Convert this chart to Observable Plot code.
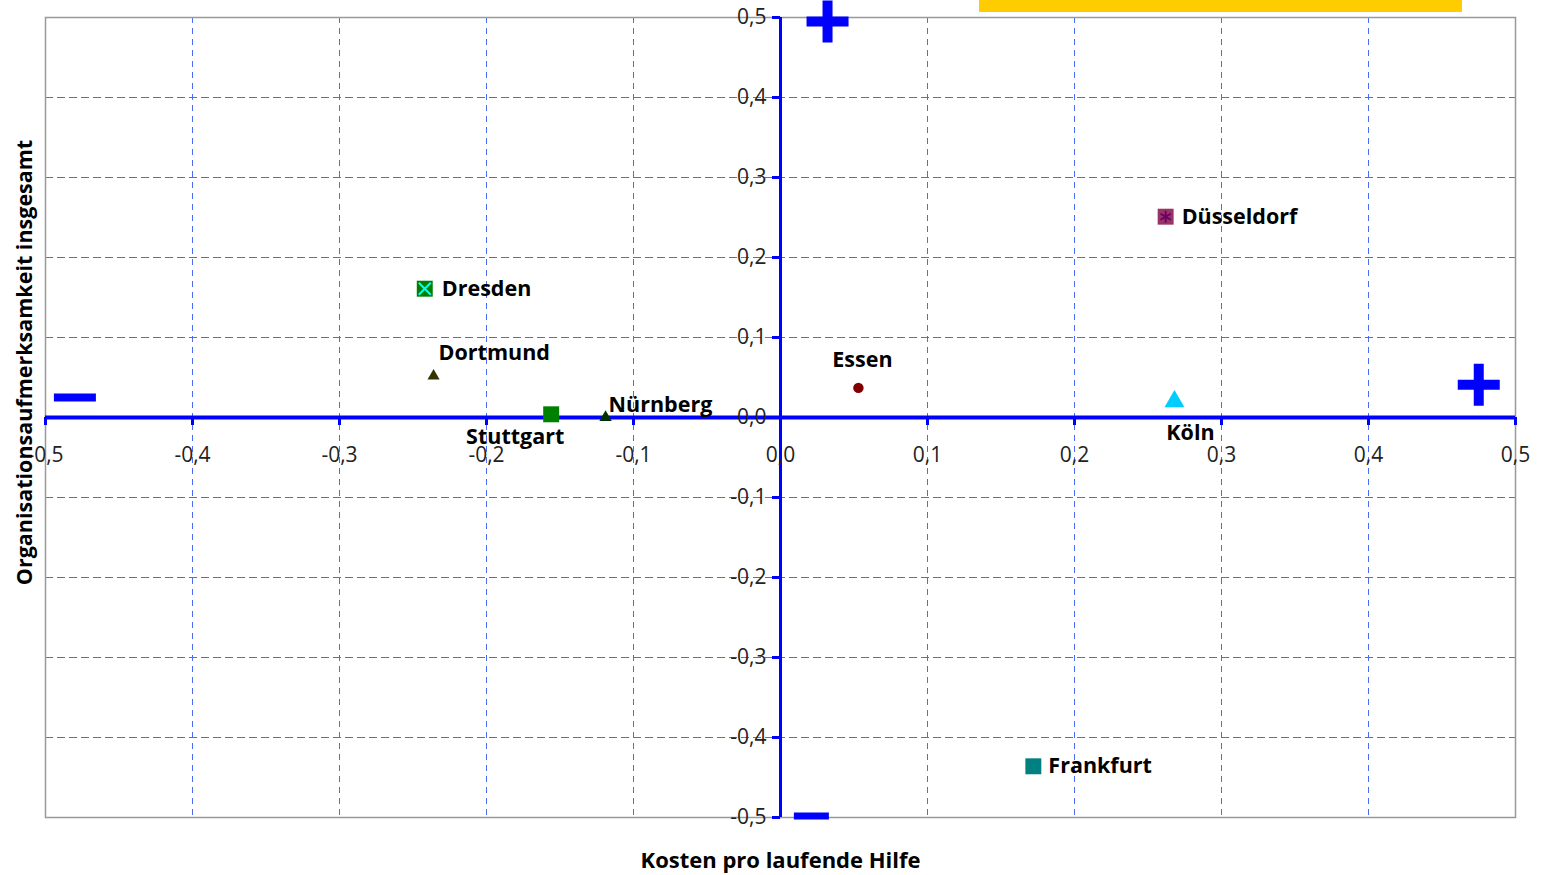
<!DOCTYPE html>
<html>
<head>
<meta charset="utf-8">
<script src="https://cdn.jsdelivr.net/npm/d3@7"></script>
<script src="https://cdn.jsdelivr.net/npm/@observablehq/plot@0.6"></script>
<style>
  body { margin: 0; background: #fff; }
  #wrap { position: relative; width: 1543px; height: 875px; font-family: "Open Sans", sans-serif; }
  #banner { position: absolute; left: 979px; top: 0; width: 483px; height: 12px; background: #ffcc00; }
</style>
</head>
<body>
<div id="wrap">
  <div id="chart"></div>
  <div id="banner"></div>
</div>
<script>
// Cities: cost per ongoing case (x) vs. overall organisational attention (y)
const cities = ["Dresden", "Dortmund", "Stuttgart", "Nürnberg", "Essen", "Düsseldorf", "Köln", "Frankfurt"];
const costs = [-0.242, -0.236, -0.156, -0.119, 0.053, 0.262, 0.268, 0.172];
const attention = [0.161, 0.052, 0.004, 0.0, 0.037, 0.251, 0.020, -0.436];

// Axis ticks
const tickValues = [-0.5, -0.4, -0.3, -0.2, -0.1, 0.0, 0.1, 0.2, 0.3, 0.4, 0.5];
const gridValues = [-0.4, -0.3, -0.2, -0.1, 0.1, 0.2, 0.3, 0.4];

// Quadrant signs placed along the axes
const signKinds = ["plus", "plus", "minusWide", "minusShort"];
const signX = [0.032, 0.475, -0.480, 0.021];
const signY = [0.495, 0.041, 0.025, -0.498];

const xTitle = "Kosten pro laufende Hilfe";
const yTitle = "Organisationsaufmerksamkeit insgesamt";

// Marker appearance per city
const markerStyle = {
  "Dresden":    {symbol: "square", r: 9, fill: "#008000"},
  "Dortmund":   {symbol: "triangle", r: 4.5, fill: "#333300"},
  "Stuttgart":  {symbol: "square", r: 9, fill: "#008000"},
  "Nürnberg":   {symbol: "triangle", r: 4.6, fill: "#003300"},
  "Essen":      {symbol: "circle", r: 5.2, fill: "#800000"},
  "Düsseldorf": {symbol: "square", r: 9, fill: "#993366"},
  "Köln":       {symbol: "triangle", r: 7.4, fill: "#00ccff"},
  "Frankfurt":  {symbol: "square", r: 9, fill: "#008080"}
};
// Label placement relative to each marker (pixels)
const labelPlacement = {
  "Dresden":    {dx: 17, dy: 0, textAnchor: "start"},
  "Dortmund":   {dx: 5, dy: -23, textAnchor: "start"},
  "Stuttgart":  {dx: -36, dy: 23, textAnchor: "middle"},
  "Nürnberg":   {dx: 3, dy: -12, textAnchor: "start"},
  "Essen":      {dx: 4, dy: -28, textAnchor: "middle"},
  "Düsseldorf": {dx: 16, dy: 0, textAnchor: "start"},
  "Köln":       {dx: 16, dy: 32, textAnchor: "middle"},
  "Frankfurt":  {dx: 15, dy: 0, textAnchor: "start"}
};

// Filled shapes for the + / − signs
const signShapes = {
  plus: {draw(ctx) { ctx.rect(-21, -5, 42, 10); ctx.rect(-5, -21, 10, 42); }},
  minusWide: {draw(ctx) { ctx.rect(-21, -4, 42, 8); }},
  minusShort: {draw(ctx) { ctx.rect(-17.5, -3.5, 35, 7); }}
};

const fmt = (v) => (Math.abs(v) < 1e-9 ? "0,0" : v.toFixed(1).replace(".", ","));
const axisBlue = "#0000ff";
const gridBlue = "#4a6cf7";

const marks = [
  // dashed grid
  Plot.ruleX(gridValues, {x: d => d, stroke: gridBlue, strokeWidth: 1, strokeDasharray: "6,5"}),
  Plot.ruleY(gridValues, {y: d => d, stroke: gridBlue, strokeWidth: 1, strokeDasharray: "8,4"}),
  Plot.frame({stroke: "#999999", strokeWidth: 1.5}),
  // central axes
  Plot.ruleY([0], {stroke: axisBlue, strokeWidth: 4}),
  Plot.ruleX([0], {stroke: axisBlue, strokeWidth: 3}),
  // tick marks on the central axes
  Plot.ruleX(tickValues, {x: d => d, y1: 0, y2: 0, insetBottom: -8, stroke: axisBlue, strokeWidth: 3}),
  Plot.ruleY(tickValues, {y: d => d, x1: 0, x2: 0, insetLeft: -8, stroke: axisBlue, strokeWidth: 3}),
  // tick labels
  Plot.text(tickValues, {x: d => d, y: 0, text: fmt, dy: 38, fontSize: 21, fill: "#222"}),
  Plot.text(tickValues, {x: 0, y: d => d, text: fmt, dx: -14, textAnchor: "end", fontSize: 21, fill: "#222"}),
  // signs
  ...["plus", "minusWide", "minusShort"].map(kind =>
    Plot.dot(signKinds.map((k, i) => i).filter(i => signKinds[i] === kind), {
      x: i => signX[i], y: i => signY[i], symbol: signShapes[kind], fill: axisBlue, stroke: "none"
    })
  ),
  // city markers
  ...cities.map((c, i) => Plot.dot([i], {
    x: j => costs[j], y: j => attention[j],
    symbol: markerStyle[c].symbol, r: markerStyle[c].r, fill: markerStyle[c].fill, stroke: "none"
  })),
  Plot.dot([cities.indexOf("Dresden")], {x: j => costs[j], y: j => attention[j], symbol: "times", r: 5.5, stroke: "#00ffff", strokeWidth: 2}),
  Plot.dot([cities.indexOf("Düsseldorf")], {x: j => costs[j], y: j => attention[j], symbol: "asterisk", r: 5.6, stroke: "#660066", strokeWidth: 1.8}),
  // city labels
  ...cities.map((c, i) => Plot.text([i], {
    x: j => costs[j], y: j => attention[j], text: j => cities[j],
    dx: labelPlacement[c].dx, dy: labelPlacement[c].dy, textAnchor: labelPlacement[c].textAnchor,
    fontSize: 21.5, fontWeight: "bold", fill: "#000"
  })),
  // axis titles
  Plot.text([xTitle], {frameAnchor: "bottom", textAnchor: "middle", dy: 50, fontSize: 22, fontWeight: "bold", fill: "#000"}),
  Plot.text([yTitle], {frameAnchor: "left", textAnchor: "middle", rotate: -90, dx: -20, dy: -55, fontSize: 21.5, fontWeight: "bold", fill: "#000"})
];

const chart = Plot.plot({
  width: 1543,
  height: 875,
  marginLeft: 45,
  marginRight: 28,
  marginTop: 17,
  marginBottom: 58,
  x: {domain: [-0.5, 0.5], axis: null},
  y: {domain: [-0.5, 0.5], axis: null},
  style: {fontFamily: "Open Sans, sans-serif", fontSize: "21px", background: "#fff", overflow: "visible"},
  marks
});
document.getElementById("chart").appendChild(chart);
</script>
</body>
</html>
